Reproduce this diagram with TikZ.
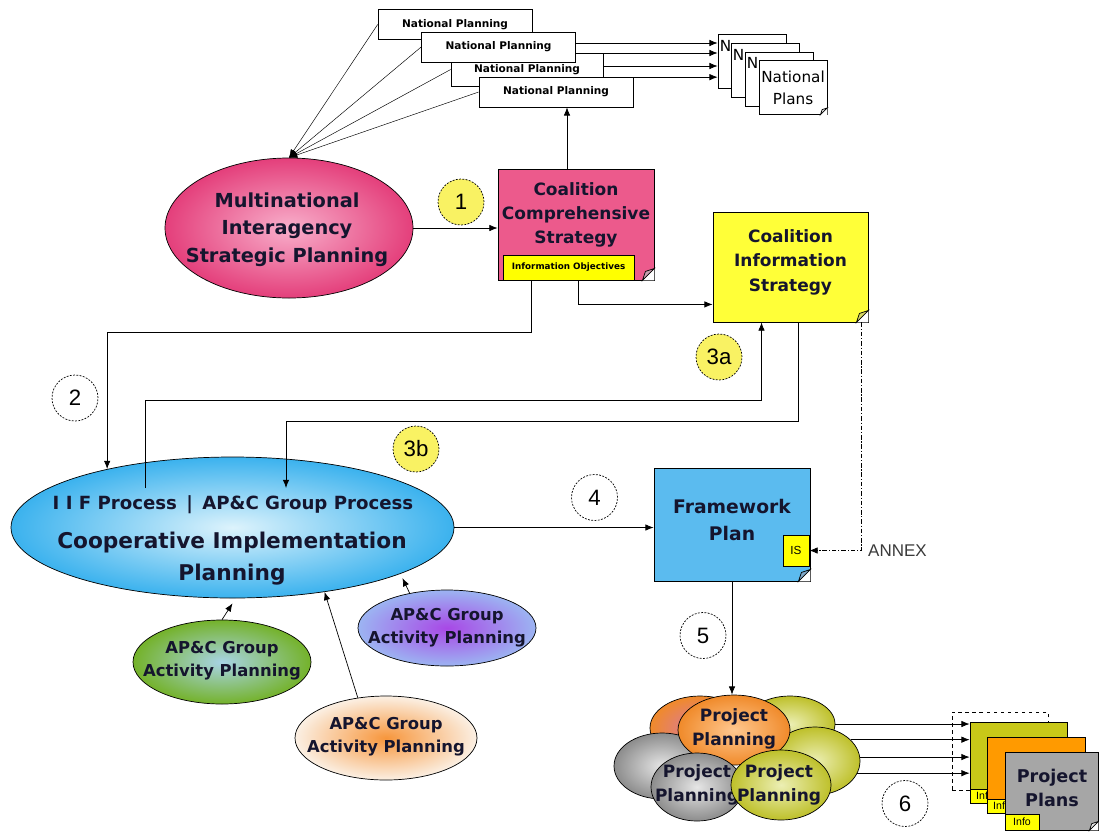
\documentclass[tikz,border=0pt]{standalone}
\usepackage{fontspec}
\setmainfont{DejaVu Sans}
\newfontfamily\arialf{Liberation Sans}
\usetikzlibrary{shapes.geometric,arrows.meta,calc}
\definecolor{mispink}{HTML}{E43F7B}
\definecolor{mispinkin}{HTML}{F8AFCB}
\definecolor{ccspink}{HTML}{EC5A8C}
\definecolor{ccsfold}{HTML}{C8A0B0}
\definecolor{yelbox}{HTML}{FFFF00}
\definecolor{cisyel}{HTML}{FFFF38}
\definecolor{cisfold}{HTML}{D8D860}
\definecolor{numyel}{HTML}{F9F263}
\definecolor{cipblue}{HTML}{3BB2EE}
\definecolor{cipin}{HTML}{DDF3FC}
\definecolor{fwblue}{HTML}{5BBBEF}
\definecolor{fwfold}{HTML}{7FA8C8}
\definecolor{txtdark}{HTML}{15152E}
\definecolor{grnout}{HTML}{74B22A}
\definecolor{grnin}{HTML}{A8D4E6}
\definecolor{purout}{HTML}{9CB4F2}
\definecolor{purin}{HTML}{A848E6}
\definecolor{beigeout}{HTML}{FBF0E4}
\definecolor{beigein}{HTML}{F7963C}
\definecolor{orgout}{HTML}{F08A2A}
\definecolor{orgin}{HTML}{FFC890}
\definecolor{magin}{HTML}{D878A8}
\definecolor{olvout}{HTML}{BEC02A}
\definecolor{olvin}{HTML}{ECEFB4}
\definecolor{gryout}{HTML}{8C8C8C}
\definecolor{gryin}{HTML}{E6E6E6}
\definecolor{ppolive}{HTML}{C8C818}
\definecolor{pporange}{HTML}{FF9A00}
\definecolor{ppgray}{HTML}{A6A6A6}
\definecolor{annexgray}{HTML}{3A3A3A}
\tikzset{
 wh/.style 2 args={minimum width=#1*0.03cm, minimum height=#2*0.03cm},
 arr/.style={line width=0.6pt, -{Latex[length=7pt,width=5.5pt]}},
 thinarr/.style={line width=0.4pt, -{Latex[length=7pt,width=5.5pt]}},
 npbox/.style={draw, fill=white, line width=0.6pt, inner sep=0pt, wh={154}{30}, font=\bfseries\fontsize{9}{10}\selectfont},
 natpage/.style={draw, fill=white, line width=0.6pt, inner sep=0pt, wh={68}{54}, align=center, font=\fontsize{13}{19}\selectfont},
 pagen/.style={anchor=north west, inner sep=0pt, font=\fontsize{13}{13}\selectfont},
 note/.style={draw, line width=0.7pt, inner sep=0pt},
 blabel/.style 2 args={align=center, text=txtdark, inner sep=0pt, font=\bfseries\fontsize{#1}{#2}\selectfont},
 num/.style={circle, draw, dash pattern=on 1.6pt off 1.2pt, line width=0.6pt, minimum size=46*0.03cm, inner sep=0pt, font=\arialf\fontsize{19}{19}\selectfont},
 oval/.style={ellipse, draw, line width=0.6pt, inner sep=0pt, shading=radial},
 infolab/.style={note, fill=yelbox, wh={30}{14}, anchor=south west, font=\arialf\fontsize{9}{9}\selectfont},
}
\newcommand{\dogear}[3]{%
 \fill[white] ($(#1.south east)+(-#2,0)$) -- (#1.south east) -- ($(#1.south east)+(0,-#2)$) -- cycle;
 \draw[line width=0.6pt, fill=#3] ($(#1.south east)+(-#2,0)$) -- ($(#1.south east)+(0,-#2)$) -- ($(#1.south east)+(-0.75*#2,-0.75*#2)$) -- cycle;
}
\begin{document}
\begin{tikzpicture}[x=0.03cm, y=-0.03cm]
\useasboundingbox[fill=white] (0,0) rectangle (1099,832);

% ---- Multinational ellipse
\node[oval, inner color=mispinkin, outer color=mispink, wh={248}{140}] (mis) at (289,228) {};
\node[blabel={16.5}{23.5}] (misT) at (287,229.5) {Multinational\\Interagency\\Strategic Planning};

% ---- National planning boxes
\node[npbox] (np1) at (455,24.5) {National Planning};
\node[npbox, wh={152}{33}] (np3) at (527,69.5) {National Planning};
\node[npbox] (np2) at (498.5,47) {National Planning};
\node[npbox] (np4) at (556,92) {National Planning};
\foreach \b in {np1,np2,np3,np4} \draw[thinarr] (\b.west) -- (mis.north);

% ---- National plans pages
\node[natpage] (pg1) at (752,61.5) {};
\node[pagen] (pg1T) at ($(pg1.north west)+(2,6)$) {N};
\node[natpage] (pg2) at (765,70.5) {};
\node[pagen] (pg2T) at ($(pg2.north west)+(2,6)$) {N};
\node[natpage] (pg3) at (779,79) {};
\node[pagen] (pg3T) at ($(pg3.north west)+(2,6)$) {N};
\node[natpage] (pg4) at (793,87.5) {National\\Plans};
\dogear{pg4}{7}{gryin}
\coordinate (a1) at ($(np2.east)+(0,-4)$);
\coordinate (a2) at ($(np2.east)+(0,6)$);
\coordinate (a3) at ($(np3.east)+(0,-3.5)$);
\coordinate (a4) at ($(np4.north east)+(0,0.5)$);
\foreach \c in {a1,a2,a3,a4} \draw[arr] (\c) -- (\c -| pg1.west);

% ---- Coalition Comprehensive Strategy
\node[note, fill=ccspink, wh={156}{111}] (ccs) at (576,224.5) {};
\node[blabel={14.5}{20.5}] (ccsT) at (576,215) {Coalition\\Comprehensive\\Strategy};
\node[note, fill=yelbox, wh={131}{25}, font=\bfseries\fontsize{7.5}{8}\selectfont] (iobj) at (568.5,267.5) {Information Objectives};
\dogear{ccs}{12}{ccsfold}

% ---- Coalition Information Strategy
\node[note, fill=cisyel, wh={155}{110}] (cis) at (790.5,267) {};
\node[blabel={14.5}{21}] (cisT) at (790.5,262) {Coalition\\Information\\Strategy};
\dogear{cis}{12}{cisfold}

% ---- Cooperative Implementation Planning
\node[oval, inner color=cipin, outer color=cipblue, wh={443}{141}] (cip) at (232.5,527.5) {};
\node[blabel={15.5}{18}] (cipA) at (233,505) {I I F Process \,|\, AP\&C Group Process};
\node[blabel={18.5}{28}] (cipB) at (232,558.5) {Cooperative Implementation\\Planning};

% ---- AP&C ellipses
\node[oval, inner color=grnin, outer color=grnout, wh={178}{84}] (apG) at (222,662) {};
\node[blabel={14}{19.5}] (apGT) at (222,661) {AP\&C Group\\Activity Planning};
\node[oval, inner color=purin, outer color=purout, wh={178}{76}] (apP) at (447,628) {};
\node[blabel={14}{19.5}] (apPT) at (447,628) {AP\&C Group\\Activity Planning};
\node[oval, inner color=beigein, outer color=beigeout, wh={182}{84}] (apB) at (386,738) {};
\node[blabel={14}{19.5}] (apBT) at (386,736.5) {AP\&C Group\\Activity Planning};

% ---- Framework Plan
\node[note, fill=fwblue, wh={156}{113}] (fw) at (732,524.5) {};
\node[blabel={16}{23}] (fwT) at (732,520) {Framework\\Plan};
\node[note, fill=yelbox, wh={26}{31}, font=\arialf\fontsize{10}{10}\selectfont] (isb) at (796,550.5) {IS};
\dogear{fw}{12}{fwfold}

% ---- Project planning cluster
\node[oval, inner color=olvin, outer color=olvout, wh={90}{56}] (pC) at (790,724) {};
\node[oval, inner color=magin, outer color=orgout, wh={100}{64}] (pA) at (700,728) {};
\node[oval, inner color=gryin, outer color=gryout, wh={96}{66}] (pE) at (662,766) {};
\node[oval, inner color=olvin, outer color=olvout, wh={90}{68}] (pD) at (815,761) {};
\node[oval, inner color=orgin, outer color=orgout, wh={112}{70}] (pB) at (734,730) {};
\node[blabel={14.5}{21}] (pBT) at (734,729) {Project\\Planning};
\node[oval, inner color=gryin, outer color=gryout, wh={92}{68}] (pF) at (697,787) {};
\node[blabel={14.5}{21}] (pFT) at (697,785) {Project\\Planning};
\node[oval, inner color=olvin, outer color=olvout, wh={100}{70}] (pG) at (781,785) {};
\node[blabel={14.5}{21}] (pGT) at (779,785) {Project\\Planning};

% ---- Project plans
\node[draw, dashed, line width=0.6pt, wh={96}{78}] (dbox) at (1000,751) {};
\node[note, fill=ppolive, wh={97}{81}] (pp1) at (1018.5,762.5) {};
\node[infolab] (info1) at (pp1.south west) {Info};
\draw[arr] (pC.east) -- (pC.east -| pp1.west);
\foreach \ang in {31,5,-16} \draw[arr] (pD.\ang) -- (pD.\ang -| pp1.west);
\node[note, fill=pporange, wh={98}{76}] (pp2) at (1036,775) {};
\node[infolab] (info2) at (pp2.south west) {Info};
\node[note, fill=ppgray, wh={93}{78}] (pp3) at (1051.5,791) {};
\node[blabel={15}{21}] (pp3T) at (1052,788) {Project\\Plans};
\node[infolab, wh={34}{16}] (info3) at (pp3.south west) {Info};
\dogear{pp3}{9}{gryin}

% ---- numbered circles
\node[num, fill=numyel] (n1) at (461,202) {1};
\node[num, fill=white] (n2) at (75,398) {2};
\node[num, fill=numyel] (n3a) at (719,357) {3a};
\node[num, fill=numyel] (n3b) at (416,449) {3b};
\node[num, fill=white] (n4) at (594.5,497.5) {4};
\node[num, fill=white] (n5) at (703,635.5) {5};
\node[num, fill=white] (n6) at (905,803.5) {6};

% ---- connectors
\coordinate (ccsup) at ($(ccs.north)+(-9,0)$);
\coordinate (ccs2) at ($(ccs.south)+(-45,0)$);
\coordinate (ccs3) at ($(ccs.south)+(2,0)$);
\coordinate (cisin) at ($(cis.south west)+(0,-18)$);
\coordinate (cis3a) at ($(cis.south)+(-29,0)$);
\coordinate (cis3b) at ($(cis.south)+(8,0)$);
\coordinate (cisannex) at ($(cis.south east)+(-7,0)$);
\coordinate (cip3a) at ($(cip.center)+(-87.5,-39.5)$);
\coordinate (cip3b) at ($(cip.center)+(53.5,-39.5)$);

\draw[arr] (mis.east) -- (mis.east -| ccs.west);
\draw[arr] (ccsup) -- (ccsup |- np4.south);
\draw[arr] (ccs3) |- (cisin);
\draw[arr] (ccs2) -- ++(0,52) -| (cip.155.2);
\draw[arr] (cip3a) -- ++(0,-88) -| (cis3a);
\draw[arr] (cis3b) -- ++(0,99) -| (cip3b);
\draw[arr] (cip.east) -- (cip.east -| fw.west);
\draw[arr, dash pattern=on 4pt off 1.5pt on 1pt off 1.5pt] (cisannex) |- (isb.east);
\node[anchor=west, text=annexgray, inner sep=0pt, font=\arialf\fontsize{14.5}{14.5}\selectfont] (annex) at (868,551) {ANNEX};
\draw[arr] (fw.south) -- (fw.south |- pB.north);
\draw[arr] (apG.north) -- ($(cip.south)+(0,5)$);
\draw[arr] (apB.125) -- (cip.-35.4);
\draw[arr] (apP.137) -- ($(cip.-15.4)+(0,5)$);
\end{tikzpicture}
\end{document}
